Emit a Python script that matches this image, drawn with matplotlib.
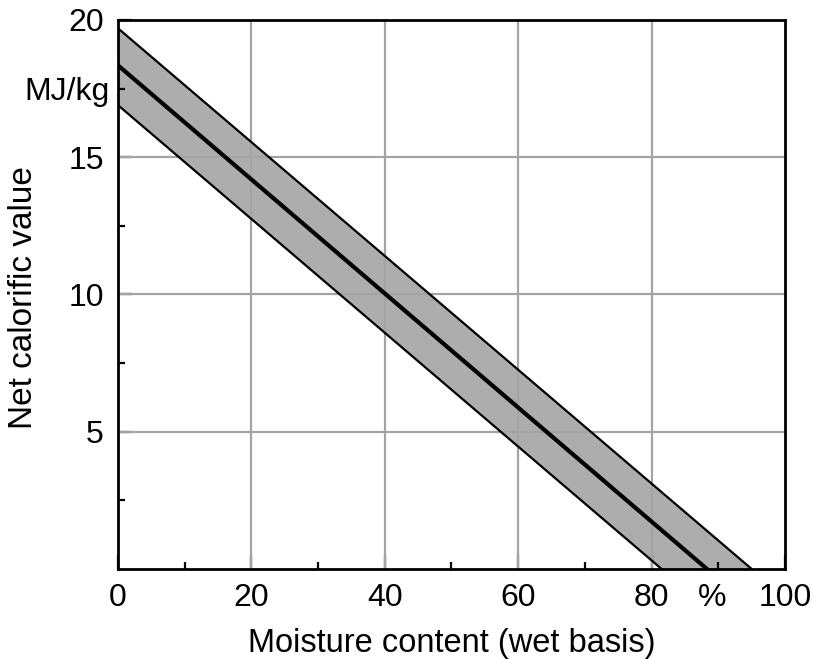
import matplotlib
matplotlib.use("Agg")
import matplotlib.pyplot as plt
import matplotlib.transforms as mtransforms
from matplotlib.ticker import FixedLocator

plt.rcParams['font.family'] = ['Liberation Sans', 'DejaVu Sans']

# Data (end points of the straight lines)
upper_x = [0, 95.0]
upper_y = [19.7, 0]
mid_x = [0, 88.3]
mid_y = [18.35, 0]
lower_x = [0, 81.5]
lower_y = [16.9, 0]

x_major = [0, 20, 40, 60, 80, 100]
x_minor = [10, 30, 50, 70, 90]
x_labels = ['0', '20', '40', '60', '80', '100']
y_major = [5, 10, 15, 20]
y_minor = [2.5, 7.5, 12.5, 17.5]
y_labels = ['5', '10', '15', '20']

FS = 23

fig = plt.figure(figsize=(8.13, 6.59), dpi=100)
ax = fig.add_axes([0.145, 0.1366, 0.8206, 0.8331])

band_x = upper_x + lower_x[::-1]
band_y = upper_y + lower_y[::-1]
ax.fill(band_x, band_y, color='#adadad', lw=0, zorder=1)
ax.plot(upper_x, upper_y, color='black', lw=1.6, zorder=3)
ax.plot(lower_x, lower_y, color='black', lw=1.6, zorder=3)
ax.plot(mid_x, mid_y, color='black', lw=3.0, zorder=3)

ax.set_xlim(0, 100)
ax.set_ylim(0, 20)

for v in x_major[1:-1]:
    ax.axvline(v, color='#a4a4a4', lw=1.6, zorder=2)
for v in y_major[:-1]:
    ax.axhline(v, color='#a4a4a4', lw=1.6, zorder=2)

ax.xaxis.set_major_locator(FixedLocator(x_major))
ax.set_xticklabels(x_labels)
ax.xaxis.set_minor_locator(FixedLocator(x_minor))
ax.yaxis.set_major_locator(FixedLocator(y_major))
ax.set_yticklabels(y_labels)
ax.yaxis.set_minor_locator(FixedLocator(y_minor))

ax.tick_params(which='major', direction='in', length=10, width=1.6,
               labelsize=FS, pad=10, top=False, right=False)
ax.tick_params(which='minor', direction='in', length=5, width=1.6,
               top=False, right=False)

# unit labels placed at minor tick positions
ax.text(89, 0, '%', ha='center', va='top', fontsize=FS,
        transform=ax.get_xaxis_transform() +
        mtransforms.ScaledTranslation(0, -10/72, fig.dpi_scale_trans))
ax.text(0, 17.5, 'MJ/kg', ha='right', va='center_baseline', fontsize=FS,
        transform=ax.get_yaxis_transform() +
        mtransforms.ScaledTranslation(-6/72, 0, fig.dpi_scale_trans))

for s in ax.spines.values():
    s.set_linewidth(2.0)
    s.set_zorder(4)

ax.set_xlabel('Moisture content (wet basis)', fontsize=23.5)
ax.xaxis.set_label_coords(0.5, -0.108)
ax.set_ylabel('Net calorific value', fontsize=24)
ax.yaxis.set_label_coords(-0.118, 0.495)

fig.savefig('out.png', dpi=100)
